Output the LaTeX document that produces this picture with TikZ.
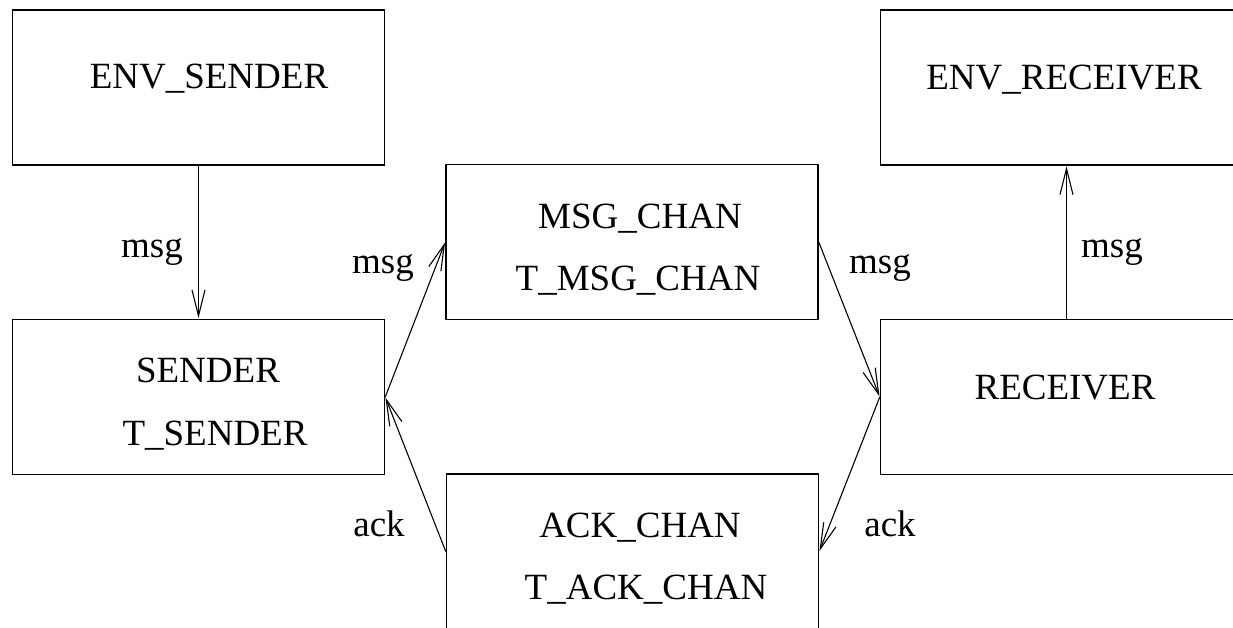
\documentclass[tikz,border=0pt]{standalone}
\usepackage{fontspec}
\setmainfont{Liberation Serif}
\usetikzlibrary{arrows.meta}
\tikzset{
  blk/.style={draw, line width=1.5pt, rectangle, minimum width=372pt, minimum height=155pt, inner sep=0pt},
  txt/.style={anchor=base, inner sep=0pt, font=\fontsize{37}{44}\selectfont},
  lbl/.style={anchor=base, inner sep=0pt, font=\fontsize{37}{44}\selectfont},
  flow/.style={line width=1.1pt, -{Straight Barb[length=26pt, width=13pt, line width=1.1pt]}, shorten >=0.6pt}
}
\begin{document}
\begin{tikzpicture}[x=1pt, y=-1pt]
\useasboundingbox (0,0) rectangle (1233,627);
\clip (0,0) rectangle (1233,627);
\fill[white] (0,0) rectangle (1233,627);

% process boxes
\node[blk] (envs) at (198.5, 87.5) {};
\node[blk] (snd)  at (198.5, 397) {};
\node[blk] (mch)  at (632, 242) {};
\node[blk] (ach)  at (632.5, 551.5) {};
\node[blk] (rcv)  at (1066.5, 397) {};
\node[blk] (envr) at (1066.5, 87.5) {};

% box captions
\node[txt] (tenvs) at (209, 88) {ENV\_SENDER};
\node[txt] (tsnd1) at (208, 382) {SENDER};
\node[txt] (tsnd2) at (215, 445) {T\_SENDER};
\node[txt] (tmch1) at (640, 228) {MSG\_CHAN};
\node[txt] (tmch2) at (638, 290) {T\_MSG\_CHAN};
\node[txt] (tach1) at (640, 537) {ACK\_CHAN};
\node[txt] (tach2) at (646, 599) {T\_ACK\_CHAN};
\node[txt] (trcv)  at (1065, 399) {RECEIVER};
\node[txt] (tenvr) at (1064, 89) {ENV\_RECEIVER};

% channels
\draw[flow] (envs.south) -- (snd.north);
\draw[flow] (snd.east) -- (mch.west);
\draw[flow] (mch.east) -- (rcv.west);
\draw[flow] (rcv.west) -- (ach.east);
\draw[flow] (ach.west) -- (snd.east);
\draw[flow] (rcv.north) -- (envr.south);

% channel labels
\node[lbl] (l1) at (152, 257) {msg};
\node[lbl] (l2) at (383, 273) {msg};
\node[lbl] (l3) at (880, 273) {msg};
\node[lbl] (l4) at (1112, 257) {msg};
\node[lbl] (l5) at (379, 536) {ack};
\node[lbl] (l6) at (890, 536) {ack};
\end{tikzpicture}
\end{document}
